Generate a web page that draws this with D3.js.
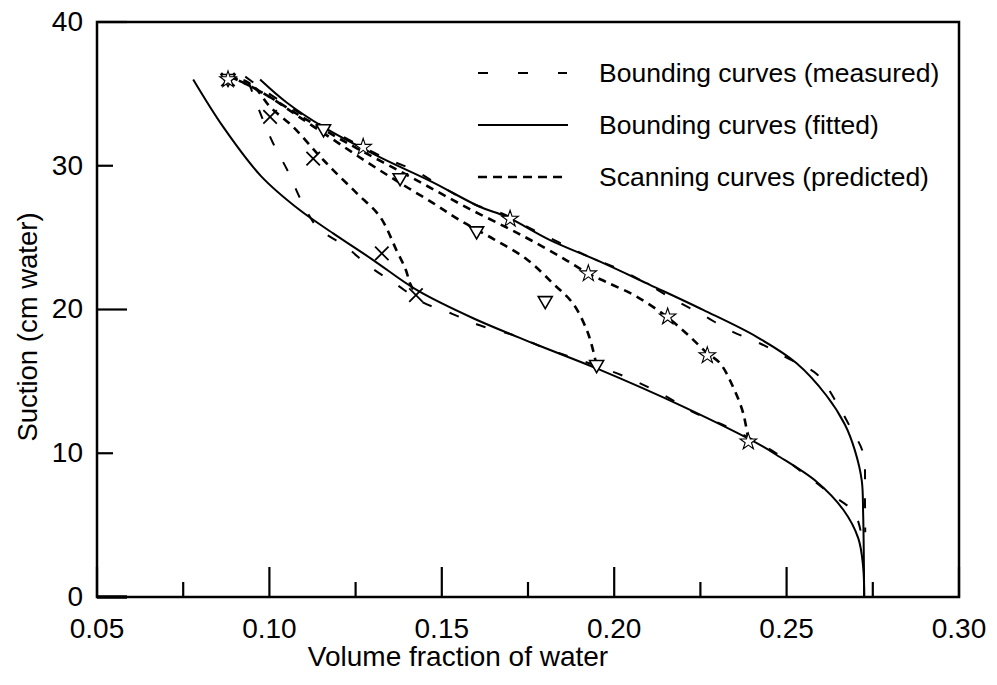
<!DOCTYPE html>
<html>
<head>
<meta charset="utf-8">
<script src="https://cdn.jsdelivr.net/npm/d3@7"></script>
<style>
  body { margin: 0; background: #fff; }
  svg { display: block; font-family: "Liberation Sans", Arial, sans-serif; }
</style>
</head>
<body>
<svg id="chart" width="997" height="685"></svg>
<script>
// ---------------- DATA ----------------
const xMajorTicks = [0.05, 0.10, 0.15, 0.20, 0.25, 0.30];
const xMinorTicks = [0.075, 0.125, 0.175, 0.225, 0.275];
const xTickLabels = ["0.05", "0.10", "0.15", "0.20", "0.25", "0.30"];
const yMajorTicks = [0, 20, 40];
const yMinorTicks = [10, 30];
const yTickLabels = ["0", "10", "20", "30", "40"];
const yTickValues = [0, 10, 20, 30, 40];

// Bounding curves (fitted) - drying (upper) and wetting (lower)
const fittedDrying = [[0.0973,36.0],[0.105,34.4],[0.1156,32.7],[0.132,30.6],[0.147,28.9],[0.161,27.15],[0.1688,26.45],[0.1814,24.83],[0.1959,23.33],[0.2105,21.7],[0.2258,19.97],[0.2413,18.1],[0.2529,16.26],[0.2616,14.0],[0.2669,12.0],[0.2698,10.2],[0.2718,8.1],[0.2722,5.8],[0.2725,0]];
const fittedWetting = [[0.0779,36.0],[0.0866,32.7],[0.0975,29.3],[0.1089,26.9],[0.1185,25.3],[0.1301,23.44],[0.1427,21.36],[0.1591,19.39],[0.1765,17.65],[0.1949,15.9],[0.22,13.24],[0.2432,10.46],[0.2471,9.88],[0.2587,8.02],[0.2665,6.05],[0.2708,4.08],[0.2722,2.1],[0.2725,0]];

// Bounding curves (measured)
const measuredDrying = [[0.093,36.2],[0.100,35.0],[0.110,33.5],[0.120,32.2],[0.133,30.6],[0.1427,29.6],[0.1503,28.5],[0.1596,27.3],[0.1683,26.6],[0.176,25.6],[0.1837,24.7],[0.1924,23.7],[0.2014,22.8],[0.2094,21.8],[0.2173,20.7],[0.2258,19.6],[0.2339,18.5],[0.2426,17.6],[0.2504,16.6],[0.2588,15.5],[0.2643,13.6],[0.2687,11.7],[0.2722,10.0],[0.2727,7.0],[0.2728,4.5]];
const measuredWetting = [[0.094,35.8],[0.0973,33.7],[0.101,31.6],[0.1054,29.6],[0.1094,27.5],[0.114,25.7],[0.122,24.4],[0.129,23.0],[0.1365,21.8],[0.1445,20.5],[0.153,19.7],[0.161,18.9],[0.171,18.2],[0.18,17.3],[0.1886,16.6],[0.1982,15.8],[0.2063,15.0],[0.2147,14.0],[0.2226,12.9],[0.2313,12.0],[0.2397,11.0],[0.247,10.0],[0.255,8.6],[0.2626,7.2],[0.2698,5.8],[0.2722,3.5]];

// Scanning curves (predicted)
const scanCross = [[0.1417,21.4],[0.1408,21.8],[0.1395,22.8],[0.1369,24.1],[0.1321,26.45],[0.1253,28.1],[0.1185,29.7],[0.1137,30.9],[0.1069,32.7],[0.1002,34.1],[0.0963,35.3],[0.093,35.9],[0.0895,36.1]];
const scanTriangle = [[0.1949,16.1],[0.1935,17.5],[0.192,18.6],[0.1881,20.4],[0.1823,21.8],[0.1746,23.5],[0.165,24.9],[0.1553,26.2],[0.1475,27.4],[0.1379,28.8],[0.128,30.3],[0.118,31.9],[0.108,33.5],[0.100,34.8],[0.094,35.6],[0.0895,36.1]];
const scanStar = [[0.2389,10.9],[0.2374,12.8],[0.2345,14.6],[0.2307,16.26],[0.2268,17.0],[0.222,18.1],[0.2152,19.5],[0.2065,20.9],[0.1978,21.9],[0.1925,22.5],[0.1852,23.56],[0.176,24.8],[0.168,25.8],[0.158,27.0],[0.148,28.3],[0.138,29.6],[0.127,31.0],[0.118,32.2],[0.108,33.6],[0.100,34.8],[0.094,35.6],[0.0895,36.1]];

// Measured scanning points
const crossPoints = [[0.088,36.0],[0.1002,33.4],[0.1127,30.5],[0.1326,23.9],[0.1425,21.0]];
const trianglePoints = [[0.088,36.0],[0.1157,32.5],[0.1379,29.1],[0.1601,25.4],[0.180,20.55],[0.1949,16.1]];
const starPoints = [[0.088,36.0],[0.1272,31.3],[0.1698,26.3],[0.1925,22.5],[0.2155,19.5],[0.227,16.8],[0.2389,10.8]];

const legendLabels = ["Bounding curves (measured)", "Bounding curves (fitted)", "Scanning curves (predicted)"];

// ---------------- DRAW ----------------
const svg = d3.select("#chart");
const L = 97, R = 959, T = 22, B = 597;
const x = d3.scaleLinear().domain([0.05, 0.30]).range([L, R]);
const y = d3.scaleLinear().domain([0, 40]).range([B, T]);

const smooth = d3.line().x(d => x(d[0])).y(d => y(d[1])).curve(d3.curveCatmullRom.alpha(0.5));

const plot = svg.append("g");

// measured bounding curves
[measuredDrying, measuredWetting].forEach(s => {
  plot.append("path").attr("d", smooth(s)).attr("fill", "none")
    .attr("stroke", "#000").attr("stroke-width", 2).attr("stroke-dasharray", "10,19");
});
// fitted bounding curves
[fittedDrying, fittedWetting].forEach(s => {
  plot.append("path").attr("d", smooth(s)).attr("fill", "none")
    .attr("stroke", "#000").attr("stroke-width", 2);
});
// scanning curves
[scanCross, scanTriangle, scanStar].forEach(s => {
  plot.append("path").attr("d", smooth(s)).attr("fill", "none")
    .attr("stroke", "#000").attr("stroke-width", 2.6).attr("stroke-dasharray", "8,6");
});

// markers
const crossSym = d3.symbol().type(d3.symbolX).size(120);
const starSym = d3.symbol().type(d3.symbolStar).size(85);
plot.selectAll(".cross").data(crossPoints).enter().append("path")
  .attr("d", crossSym).attr("transform", d => `translate(${x(d[0])},${y(d[1])})`)
  .attr("fill", "none").attr("stroke", "#000").attr("stroke-width", 1.8);
plot.selectAll(".tri").data(trianglePoints).enter().append("path")
  .attr("d", "M-7,-5L7,-5L0,7Z").attr("transform", d => `translate(${x(d[0])},${y(d[1])})`)
  .attr("fill", "#fff").attr("stroke", "#000").attr("stroke-width", 1.6);
plot.selectAll(".star").data(starPoints).enter().append("path")
  .attr("d", starSym).attr("transform", d => `translate(${x(d[0])},${y(d[1])})`)
  .attr("fill", "#fff").attr("stroke", "#000").attr("stroke-width", 1.1);

// frame
svg.append("rect").attr("x", L).attr("y", T).attr("width", R - L).attr("height", B - T)
  .attr("fill", "none").attr("stroke", "#000").attr("stroke-width", 2.5);

// ticks
const axes = svg.append("g").attr("stroke", "#000").attr("stroke-width", 2.2);
xMajorTicks.forEach(v => axes.append("line").attr("x1", x(v)).attr("x2", x(v)).attr("y1", B).attr("y2", B - 30));
xMinorTicks.forEach(v => axes.append("line").attr("x1", x(v)).attr("x2", x(v)).attr("y1", B).attr("y2", B - 15));
yMajorTicks.forEach(v => axes.append("line").attr("x1", L).attr("x2", L + 30).attr("y1", y(v)).attr("y2", y(v)).attr("stroke-width", v === 0 ? 3.5 : 2.2));
yMinorTicks.forEach(v => axes.append("line").attr("x1", L).attr("x2", L + 16).attr("y1", y(v)).attr("y2", y(v)));

// tick labels
svg.selectAll(".xl").data(xMajorTicks).enter().append("text")
  .attr("x", d => x(d)).attr("y", 638).attr("text-anchor", "middle")
  .attr("font-size", 28).text((d, i) => xTickLabels[i]);
svg.selectAll(".yl").data(yTickValues).enter().append("text")
  .attr("x", 83).attr("y", d => y(d)).attr("dy", "0.32em").attr("text-anchor", "end")
  .attr("font-size", 28).text((d, i) => yTickLabels[i]);

// axis titles
svg.append("text").attr("x", 458).attr("y", 666).attr("text-anchor", "middle")
  .attr("font-size", 28).text("Volume fraction of water");
svg.append("text").attr("transform", "translate(37,327) rotate(-90)").attr("text-anchor", "middle")
  .attr("font-size", 27.5).text("Suction (cm water)");

// legend
const legY = [73, 125, 177];
const lg = svg.append("g");
lg.append("line").attr("x1", 478).attr("x2", 567).attr("y1", legY[0]).attr("y2", legY[0])
  .attr("stroke", "#000").attr("stroke-width", 2).attr("stroke-dasharray", "10,30");
lg.append("line").attr("x1", 478).attr("x2", 568).attr("y1", legY[1]).attr("y2", legY[1])
  .attr("stroke", "#000").attr("stroke-width", 2);
lg.append("line").attr("x1", 478).attr("x2", 567).attr("y1", legY[2]).attr("y2", legY[2])
  .attr("stroke", "#000").attr("stroke-width", 2.6).attr("stroke-dasharray", "9,6");
legendLabels.forEach((t, i) => {
  lg.append("text").attr("x", 599).attr("y", legY[i]).attr("dy", "0.35em")
    .attr("font-size", 26.5).text(t);
});
</script>
</body>
</html>
